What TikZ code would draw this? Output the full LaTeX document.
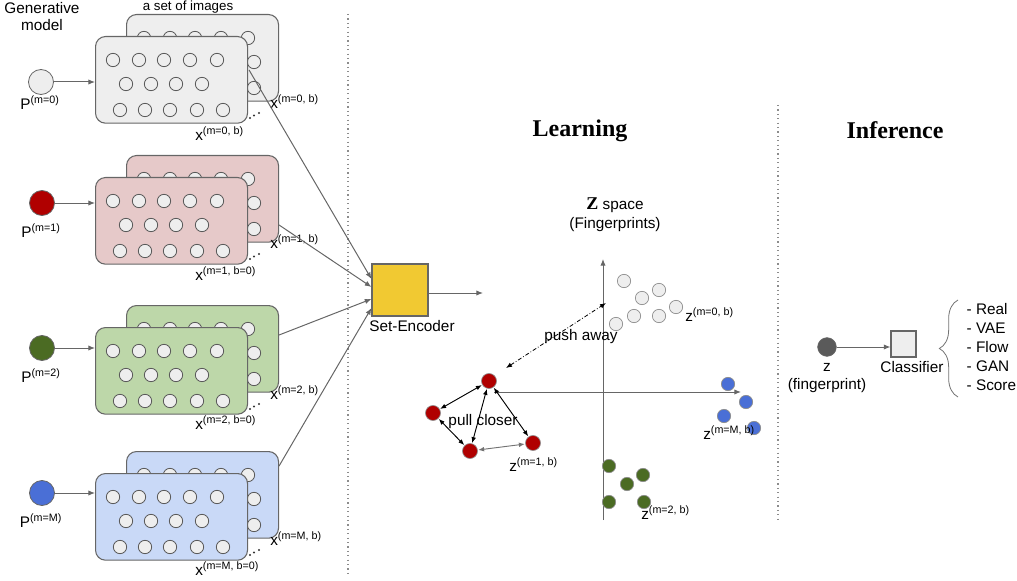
\documentclass[tikz,border=0pt]{standalone}
\usepackage{fontspec}
\setmainfont{Liberation Sans}
\newfontfamily\serifb{Liberation Serif}
\usetikzlibrary{arrows.meta,calc,decorations.pathreplacing}

\definecolor{cgray}{HTML}{EEEEEE}
\definecolor{cred}{HTML}{E6C9C9}
\definecolor{cgreen}{HTML}{BDD7A9}
\definecolor{cblue}{HTML}{C9D9F7}
\definecolor{dred}{HTML}{B00000}
\definecolor{dgreen}{HTML}{4B6B23}
\definecolor{dblue}{HTML}{4A6FD6}
\definecolor{lgray}{HTML}{666666}
\definecolor{yel}{HTML}{F1C932}
\definecolor{zdark}{HTML}{5A5A5A}

\tikzset{
 card/.style={draw=lgray, line width=0.8pt, rounded corners=7.5pt, minimum width=114pt, minimum height=65pt, inner sep=0pt, anchor=north west},
 dotc/.style={draw=black!65, fill=cgray, line width=0.6pt},
 src/.style={circle, draw=lgray, line width=0.6pt, minimum size=18.75pt, inner sep=0pt},
 zpt/.style={circle, draw=black!45, line width=0.5pt, minimum size=10pt, inner sep=0pt},
 rpt/.style={circle, draw=black!45, fill=dred, line width=0.5pt, minimum size=11.25pt, inner sep=0pt, outer sep=0.5pt},
 arr/.style={draw=lgray, line width=0.75pt, -{Latex[length=5pt,width=4pt]}},
 pull/.style={draw=black, line width=0.7pt, {Latex[length=4.5pt,width=3.5pt]}-{Latex[length=4.5pt,width=3.5pt]}},
 pullg/.style={draw=black!55, line width=0.7pt, {Latex[length=4.5pt,width=3.5pt]}-{Latex[length=4.5pt,width=3.5pt]}},
 push/.style={draw=black, line width=0.6pt, dash pattern=on 3pt off 1.5pt on 0.6pt off 1.5pt, {Latex[length=4.5pt,width=3.5pt]}-{Latex[length=4.5pt,width=3.5pt]}},
 sepline/.style={draw=black!45, line width=0.9pt, dash pattern=on 0.9pt off 2.4pt},
 ttl/.style={font=\serifb\bfseries\fontsize{18}{20}\selectfont},
 xl/.style={anchor=west, inner sep=0pt},
}

\newcommand\imgcard[5]{%
 \node[card, fill=#5] (#1) at (#3+31,#4-22) {};
 \foreach \dx in {18,44,69,95,122} \draw[dotc] (#3+31+\dx,#4+2) circle[radius=5pt];
 \foreach \dx in {52,77,102,128} \draw[dotc] (#3+31+\dx,#4+26) circle[radius=5pt];
 \foreach \dx in {25,50,75,102,128} \draw[dotc] (#3+31+\dx,#4+52) circle[radius=5pt];
 \node[card, fill=#5] (#2) at (#3,#4) {};
 \foreach \dx in {18,44,69,95,122} \draw[dotc] (#3+\dx,#4+24) circle[radius=5pt];
 \foreach \dx in {31,56,81,107} \draw[dotc] (#3+\dx,#4+48) circle[radius=5pt];
 \foreach \dx in {25,50,75,102,128} \draw[dotc] (#3+\dx,#4+74) circle[radius=5pt];
 \fill[black!80] (#3+155,#4+82) circle[radius=0.8pt] (#3+159,#4+79.5) circle[radius=0.8pt] (#3+164,#4+77) circle[radius=0.8pt];
}

\begin{document}
\begin{tikzpicture}[x=0.75pt,y=-0.75pt, font=\fontsize{11.5}{13.8}\selectfont]
\useasboundingbox (0,0) rectangle (1017,581);

% headings
\node[align=center, font=\fontsize{11.5}{12.75}\selectfont] (gm) at (42,17) {Generative\\model};
\node[font=\fontsize{10}{12}\selectfont] (aset) at (188,7) {a set of images};

% separators
\coordinate (sepA1) at (348,14); \coordinate (sepA2) at (348,577);
\draw[sepline] (sepA1) -- (sepA2);
\coordinate (sepB1) at (778,105); \coordinate (sepB2) at (778,522);
\draw[sepline] (sepB1) -- (sepB2);

% cards
\imgcard{c0b}{c0f}{95}{36}{cgray}
\imgcard{c1b}{c1f}{95}{177}{cred}
\imgcard{c2b}{c2f}{95}{327}{cgreen}
\imgcard{c3b}{c3f}{95}{473}{cblue}

% sources
\node[src, fill=cgray] (p0) at (41,82) {};
\node[src, fill=dred] (p1) at (42,203) {};
\node[src, fill=dgreen] (p2) at (42,348) {};
\node[src, fill=dblue] (p3) at (42,493) {};
\foreach \i in {0,1,2,3} \draw[arr] (p\i.east) -- (p\i.east -| c\i f.west);

\node (lp0) at (40,103) {P\textsuperscript{(m=0)}};
\node (lp1) at (41,231) {P\textsuperscript{(m=1)}};
\node (lp2) at (41,376) {P\textsuperscript{(m=2)}};
\node (lp3) at (41,521) {P\textsuperscript{(m=M)}};

% x labels
\node[xl] (x0b) at (270,102) {x\textsuperscript{(m=0, b)}};
\node[xl] (x0f) at (195,134) {x\textsuperscript{(m=0, b)}};
\node[xl] (x1b) at (270,242) {x\textsuperscript{(m=1, b)}};
\node[xl] (x1f) at (195,274) {x\textsuperscript{(m=1, b=0)}};
\node[xl] (x2b) at (270,393) {x\textsuperscript{(m=2, b)}};
\node[xl] (x2f) at (195,423) {x\textsuperscript{(m=2, b=0)}};
\node[xl] (x3b) at (270,539) {x\textsuperscript{(m=M, b)}};
\node[xl] (x3f) at (195,569) {x\textsuperscript{(m=M, b=0)}};

% encoder
\node[draw=lgray, fill=yel, line width=0.8pt, minimum width=42pt, minimum height=39pt, inner sep=0pt] (enc) at (400,290) {};
\node (encl) at (412,326) {Set-Encoder};
\draw[arr] ($(c0f.north east)+(1,34)$) -- ($(enc.west)+(0,-11)$);
\draw[arr] ($(c1b.north east)+(0,70)$) -- ($(enc.west)+(0,-3)$);
\draw[arr] ($(c2b.north east)+(0,30)$) -- ($(enc.west)+(0,9)$);
\draw[arr] ($(c3b.north east)+(0,15)$) -- ($(enc.west)+(0,18)$);
\coordinate (encout) at (483,293);
\draw[arr] (enc.east |- encout) -- (encout);

% titles
\node[ttl] (tlearn) at (580,131) {Learning};
\node[ttl] (tinf) at (895,130) {Inference};

% Z space
\node (zs) at (615,205) {{\serifb\bfseries\fontsize{13.5}{14}\selectfont Z} space};
\node (zf) at (615,225) {(Fingerprints)};
\coordinate (va0) at (603,520); \coordinate (va1) at (603,259);
\draw[arr] (va0) -- (va1);
\coordinate (ha0) at (494,392); \coordinate (ha1) at (741,392);
\draw[arr] (ha0) -- (ha1);

% gray points
\foreach \n/\x/\y in {g1/624/281, g2/659/290, g3/642/298, g4/676/307, g5/634/316, g6/659/316, g7/616/324}
  \node[zpt, fill=cgray] (\n) at (\x,\y) {};
\node[xl] (lz0) at (685,315) {z\textsuperscript{(m=0, b)}};

% red points
\node[rpt] (r0) at (489,381) {};
\node[rpt] (r1) at (433,413) {};
\node[rpt] (r2) at (470,451) {};
\node[rpt] (r3) at (533,443) {};
\draw[pull] (r0) -- (r1);
\draw[pull] (r0) -- (r2);
\draw[pull] (r0) -- (r3);
\draw[pull] (r1) -- (r2);
\draw[pullg] (r2) -- (r3);
\node (pc) at (483,422) {pull closer};
\node[xl] (lz1) at (509,465) {z\textsuperscript{(m=1, b)}};

% push away
\coordinate (pa1) at (506,368); \coordinate (pa2) at (606,303);
\draw[push] (pa1) -- (pa2);
\node (pa) at (581,337) {push away};

% green points
\foreach \n/\x/\y in {e1/609/466, e2/643/475, e3/627/484, e4/609/502, e5/644/502}
  \node[zpt, fill=dgreen] (\n) at (\x,\y) {};
\node[xl] (lz2) at (641,513) {z\textsuperscript{(m=2, b)}};

% blue points
\foreach \n/\x/\y in {b1/728/384, b2/746/402, b3/724/416, b4/754/428}
  \node[zpt, fill=dblue] (\n) at (\x,\y) {};
\node[xl] (lz3) at (703,433) {z\textsuperscript{(m=M, b)}};

% inference
\node[circle, fill=zdark, draw=black!60, line width=0.5pt, minimum size=14pt, inner sep=0pt] (zc) at (827,347) {};
\node (zl1) at (827,367) {z};
\node (zl2) at (827,386) {(fingerprint)};
\node[draw=lgray, fill=cgray, line width=0.8pt, minimum width=18.75pt, minimum height=19.5pt, inner sep=0pt] (cls) at (903.5,344) {};
\draw[arr] (zc.east) -- (zc.east -| cls.west);
\node (clsl) at (912,367) {Classifier};
\coordinate (br0) at (958,397); \coordinate (br1) at (958,300);
\draw[draw=black!55, line width=0.6pt, decorate, decoration={brace, amplitude=14pt}] (br0) -- (br1);
\node[anchor=west, align=left, font=\fontsize{11.5}{14.25}\selectfont] (cats) at (962,347) {- Real\\- VAE\\- Flow\\- GAN\\- Score};
\end{tikzpicture}
\end{document}
